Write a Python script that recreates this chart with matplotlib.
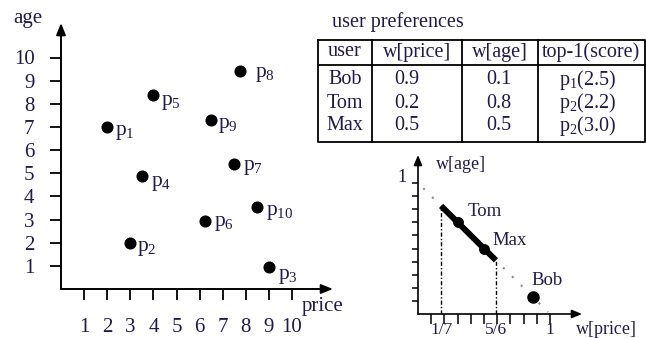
import matplotlib
matplotlib.use('Agg')
import matplotlib.pyplot as plt

plt.rcParams['font.family'] = ['Liberation Serif', 'DejaVu Serif']
plt.rcParams['mathtext.fontset'] = 'custom'
plt.rcParams['mathtext.rm'] = 'Liberation Serif'
plt.rcParams['mathtext.it'] = 'Liberation Serif:italic'

# ---------------- data ----------------
point_ids = [1, 2, 3, 4, 5, 6, 7, 8, 9, 10]
price = [2, 3, 9, 3.5, 4, 6.25, 7.5, 7.75, 6.5, 8.5]
age = [7, 2, 0.95, 4.9, 8.4, 2.95, 5.4, 9.4, 7.3, 3.55]
price_ticks = [1, 2, 3, 4, 5, 6, 7, 8, 9, 10]
age_ticks = [1, 2, 3, 4, 5, 6, 7, 8, 9, 10]

users = ['Bob', 'Tom', 'Max']
w_price = [0.9, 0.2, 0.5]
w_age = [0.1, 0.8, 0.5]
top1_point = [1, 2, 2]
top1_score = [2.5, 2.2, 3.0]
table_header = ['user', 'w[price]', 'w[age]', 'top-1(score)']

# weight-space diagram (positions as drawn)
diagram_users = ['Bob', 'Tom', 'Max']
diagram_w_price = [0.87, 0.30, 0.50]
seg_bounds = [0.175, 0.59]
seg_labels = ['1/7', '5/6']
weight_ticks = [0.1, 0.2, 0.3, 0.4, 0.5, 0.6, 0.7, 0.8, 0.9, 1.0]

# ---------------- layout / style ----------------
W, H = 646, 338
TXT = '#22194a'
label_offsets_px = [(8, -6), (7, -6), (9, -9), (9, -8), (8, -8),
                    (9, -3), (9, -4), (15, -3), (7, -5), (9, -6)]

fig = plt.figure(figsize=(W / 100, H / 100), dpi=100)

def fx(px):
    return px / W

def fy(py):
    return (H - py) / H

# ---------- left scatter ----------
x0, y0, xr, yt = 61, 289, 333, 23
ax = fig.add_axes([fx(x0), fy(y0), fx(xr - x0), (y0 - yt) / H])
ax.set_xlim(0, (xr - x0) / 23.1)
ax.set_ylim(0, (y0 - yt) / 23.15)
for s in ax.spines.values():
    s.set_visible(False)
ax.patch.set_alpha(0)
arrow = dict(arrowstyle='-|>,head_length=0.7,head_width=0.28', lw=1.4,
             color='black', shrinkA=0, shrinkB=0)
ax.annotate('', xy=(1, 0), xytext=(0, 0), xycoords='axes fraction', arrowprops=arrow)
ax.annotate('', xy=(0, 1), xytext=(0, 0), xycoords='axes fraction', arrowprops=arrow)
ax.set_xticks(price_ticks)
ax.set_xticklabels([str(t) for t in price_ticks])
ax.set_yticks(age_ticks)
ax.set_yticklabels([str(t) for t in age_ticks])
ax.tick_params(axis='x', direction='out', length=8, width=1.3, pad=13,
               labelsize=15, labelcolor=TXT)
ax.tick_params(axis='y', direction='out', length=8, width=1.3, pad=11,
               labelsize=15, labelcolor=TXT)
ax.plot(price, age, 'o', color='black', markersize=7.7, clip_on=False, zorder=3)
for i, (px_, ag, off) in enumerate(zip(price, age, label_offsets_px)):
    ax.annotate(f'$\\mathrm{{p}}_{{{point_ids[i]}}}$', xy=(px_, ag),
                xytext=(off[0] * 0.72, off[1] * 0.72), textcoords='offset points',
                ha='left', va='center', fontsize=15.5, color=TXT)

# ---------- overlay (axis labels + table) ----------
ov = fig.add_axes([0, 0, 1, 1])
ov.set_xlim(0, W)
ov.set_ylim(H, 0)
ov.axis('off')
ov.patch.set_alpha(0)
ov.text(28, 19, 'age', ha='center', va='center', fontsize=15, color=TXT)
ov.text(302, 306, 'price', ha='left', va='center', fontsize=15, color=TXT)

# table
tl, tr, ttop, thead, tbot = 318, 645, 40, 65, 142
col_x = [tl, 372, 462, 538, tr]
lw_t = 1.3
ov.plot([tl, tr, tr, tl, tl], [ttop, ttop, tbot, tbot, ttop], color='black', lw=lw_t)
ov.plot([tl, tr], [thead, thead], color='black', lw=lw_t)
for cx in col_x[1:-1]:
    ov.plot([cx, cx], [ttop, tbot], color='black', lw=lw_t)
ov.text(332, 22, 'user preferences', ha='left', va='center', fontsize=14.5, color=TXT)
head_centers = [345, 417, 500, 591]
for hc, h in zip(head_centers, table_header):
    ov.text(hc, 52, h, ha='center', va='center', fontsize=14.5, color=TXT)
row_y = [80, 103, 126]
for ry, u, wp, wa, tp, sc in zip(row_y, users, w_price, w_age, top1_point, top1_score):
    ov.text(345, ry, u, ha='center', va='center', fontsize=14.5, color=TXT)
    ov.text(407, ry, f'{wp:.1f}', ha='center', va='center', fontsize=14.5, color=TXT)
    ov.text(499, ry, f'{wa:.1f}', ha='center', va='center', fontsize=14.5, color=TXT)
    ov.text(559, ry, f'$\\mathrm{{p}}_{{{tp}}}$({sc:.1f})', ha='left', va='center',
            fontsize=14.5, color=TXT)

# ---------- weight-space diagram ----------
ox, oy, ax_r, ay_t = 418, 314, 582, 155
ax2 = fig.add_axes([fx(ox), fy(oy), fx(ax_r - ox), (oy - ay_t) / H])
ax2.set_xlim(0, (ax_r - ox) / 132)
ax2.set_ylim(0, (oy - ay_t) / 131)
for s in ax2.spines.values():
    s.set_visible(False)
ax2.patch.set_alpha(0)
arrow2 = dict(arrowstyle='-|>,head_length=0.6,head_width=0.25', lw=1.2,
              color='black', shrinkA=0, shrinkB=0)
ax2.annotate('', xy=(1, 0), xytext=(0, 0), xycoords='axes fraction', arrowprops=arrow2)
ax2.annotate('', xy=(0, 1), xytext=(0, 0), xycoords='axes fraction', arrowprops=arrow2)
ax2.set_xticks(weight_ticks)
ax2.set_yticks(weight_ticks)
ax2.set_xticklabels([])
ax2.set_yticklabels([])
ax2.tick_params(axis='x', direction='out', length=7, width=1.1)
ax2.tick_params(axis='y', direction='out', length=4, width=1.1)

# dotted constraint line w[age] = 1 - w[price]
ax2.plot([0.04, 0.985], [1 - 0.04, 1 - 0.985], color='#8a8a8a', lw=1.5,
         linestyle=(0, (1, 5)), clip_on=False)
# thick segment
ax2.plot(seg_bounds, [1 - s for s in seg_bounds], color='black', lw=4.3,
         solid_capstyle='butt', zorder=3)
for sb in seg_bounds:
    ax2.plot([sb, sb], [0, 1 - sb], color='black', lw=1.0,
             linestyle=(0, (3, 1.5, 1, 1.5)))
# user dots
user_offsets = {'Tom': (27, -11), 'Max': (26, -8), 'Bob': (14, -16)}
for u, wp in zip(diagram_users, diagram_w_price):
    ms = 8 if u == 'Bob' else 6.8
    ax2.plot([wp], [1 - wp], 'o', color='black', markersize=ms, zorder=4, clip_on=False)
    off = user_offsets[u]
    ax2.annotate(u, xy=(wp, 1 - wp), xytext=(off[0] * 0.72, -off[1] * 0.72),
                 textcoords='offset points', ha='center', va='center',
                 fontsize=13.5, color=TXT)
# axis texts
ax2.text(-0.12, 1.045, '1', ha='center', va='center', fontsize=13, color=TXT)
ax2.text(0.14, 1.14, 'w[age]', ha='left', va='center', fontsize=13, color=TXT)
ax2.text(1.2, -0.12, 'w[price]', ha='left', va='center', fontsize=13, color=TXT,
         clip_on=False)
for sb, lab in zip(seg_bounds, seg_labels):
    ax2.text(sb, -0.12, lab, ha='center', va='center', fontsize=12.5, color=TXT)
ax2.text(1.0, -0.12, '1', ha='center', va='center', fontsize=12.5, color=TXT)

fig.savefig('out.png', dpi=100)
